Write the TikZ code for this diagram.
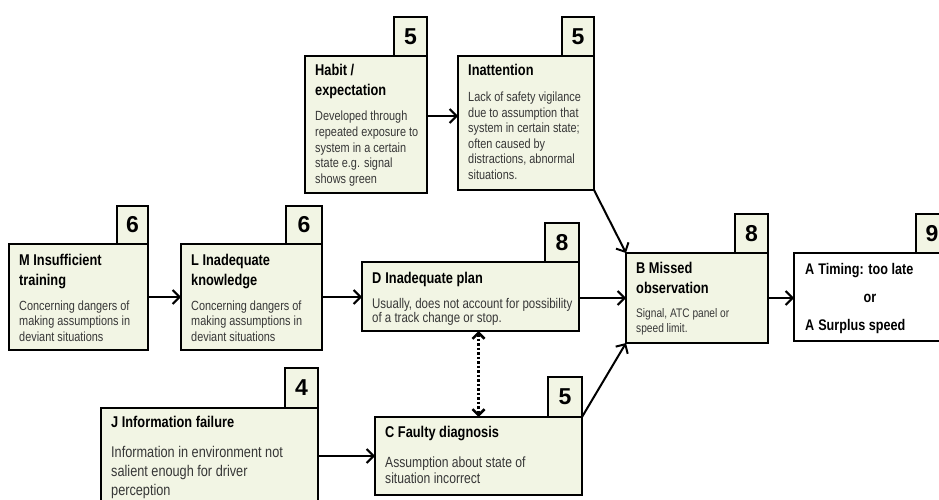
\documentclass[tikz,border=0pt]{standalone}
\usepackage{fontspec}
\setmainfont[FakeStretch=0.82]{Liberation Sans}
\newfontfamily\numfont{Liberation Sans}
\usetikzlibrary{arrows.meta,calc}
\definecolor{boxfill}{RGB}{242,245,228}
\definecolor{bodytxt}{RGB}{55,55,55}
\newcommand\ml[1]{\begin{tabular}[t]{@{}l@{}}#1\end{tabular}}
\tikzset{
 boxst/.style={draw, line width=2.6pt, inner sep=0pt, outer sep=0pt, fill=boxfill},
 numst/.style={draw, line width=2.6pt, inner sep=0pt, outer sep=0pt, fill=boxfill, font=\numfont\bfseries\fontsize{23}{23}\selectfont},
 ttl/.style={anchor=base west, inner sep=0pt, align=left, font=\bfseries\fontsize{15.6}{20}\selectfont},
 bdy/.style={anchor=base west, inner sep=0pt, align=left, text=bodytxt, font=\fontsize{13.3}{15.6}\selectfont},
 atxt/.style={anchor=base west, inner sep=0pt, font=\bfseries\fontsize{15.4}{15.4}\selectfont},
 conn/.style={line width=2pt, -{Straight Barb[length=7pt,width=14pt]}},
 dotconn/.style={line width=2.5pt, dash pattern=on 2.5pt off 2pt, {Straight Barb[length=6pt,width=12pt]}-{Straight Barb[length=6pt,width=12pt]}},
}
\newcommand\mkbox[6]{\node[boxst, anchor=north west, minimum width=#4pt, minimum height=#5pt, #6] (#1) at (#2,#3) {};}
\newcommand\mknum[4]{\node[numst, anchor=south east, minimum width=#2pt, minimum height=#3pt] (#1n) at (#1.north east) {#4};}
\begin{document}
\begin{tikzpicture}[x=1pt,y=-1pt]
\path[use as bounding box] (0,0) rectangle (939,500);
\clip (0,0) rectangle (939,500);
% boxes
\mkbox{habit}{305}{56}{122}{137}{}
\mknum{habit}{33}{39}{5}
\mkbox{inatt}{458}{56}{136}{134}{}
\mknum{inatt}{32}{39}{5}
\mkbox{M}{9}{244}{139}{106}{}
\mknum{M}{31}{38}{6}
\mkbox{L}{181}{244}{141}{106}{}
\mknum{L}{36}{38}{6}
\mkbox{D}{362}{262}{217}{69}{}
\mknum{D}{34}{39}{8}
\mkbox{B}{626}{253}{142}{90}{}
\mknum{B}{33}{39}{8}
\mkbox{A}{794}{253}{154}{88}{fill=white}
\mknum{A}{32}{39}{9}
\mkbox{J}{101}{408}{217}{102}{}
\mknum{J}{33}{40}{4}
\mkbox{C}{375}{417}{207}{78}{}
\mknum{C}{34}{40}{5}
% texts
\node[ttl] (habitT) at (315,76) {\ml{Habit /\\expectation}};
\node[bdy] (habitB) at (315,121) {\ml{Developed through\\repeated exposure to\\system in a certain\\state e.g. signal\\shows green}};
\node[ttl] (inattT) at (468,76) {Inattention};
\node[bdy] (inattB) at (468,101.5) {\ml{Lack of safety vigilance\\due to assumption that\\system in certain state;\\often caused by\\distractions, abnormal\\situations.}};
\node[ttl] (MT) at (19,265) {\ml{M Insufficient\\training}};
\node[bdy] (MB) at (19,310) {\ml{Concerning dangers of\\making assumptions in\\deviant situations}};
\node[ttl] (LT) at (191,265) {\ml{L Inadequate\\knowledge}};
\node[bdy] (LB) at (191,310) {\ml{Concerning dangers of\\making assumptions in\\deviant situations}};
\node[ttl] (DT) at (372,283) {D\hspace{4pt}Inadequate plan};
\node[bdy, font=\fontsize{14}{14.5}\selectfont] (DB) at (372,308) {\ml{Usually, does not account for possibility\\of a track change or stop.}};
\node[ttl] (BT) at (636,273) {\ml{B Missed\\observation}};
\node[bdy, font=\fontsize{12.4}{15}\selectfont] (BB) at (636,317) {\ml{Signal, ATC panel or\\speed limit.}};
\node[atxt] (A1) at (805,274) {A\hspace{4pt}Timing: too late};
\node[atxt, anchor=base] (A2) at (870,302) {or};
\node[atxt] (A3) at (805,330) {A\hspace{4pt}Surplus speed};
\node[ttl] (JT) at (111,427) {J Information failure};
\node[bdy, font=\fontsize{15.5}{19}\selectfont] (JB) at (111,457) {\ml{Information in environment not\\salient enough for driver\\perception}};
\node[ttl] (CT) at (385,437) {C Faulty diagnosis};
\node[bdy, font=\fontsize{14.8}{16.5}\selectfont] (CB) at (385,467) {\ml{Assumption about state of\\situation incorrect}};
% connectors
\draw[conn] ($(habit.north east)+(0,60)$) -- ($(inatt.north west)+(0,60)$);
\draw[conn] (M.east) -- (M.east -| L.west);
\draw[conn] (L.east) -- (L.east -| D.west);
\draw[conn] (B.west -| D.east) -- (B.west);
\draw[conn] (B.east) -- (B.east -| A.west);
\draw[conn] (J.east |- C.west) -- (C.west);
\draw[conn] (inatt.south east) -- (B.north west);
\draw[conn] (C.north east) -- (B.south west);
\draw[dotconn] (D.south -| C.north) -- (C.north);
\end{tikzpicture}
\end{document}
